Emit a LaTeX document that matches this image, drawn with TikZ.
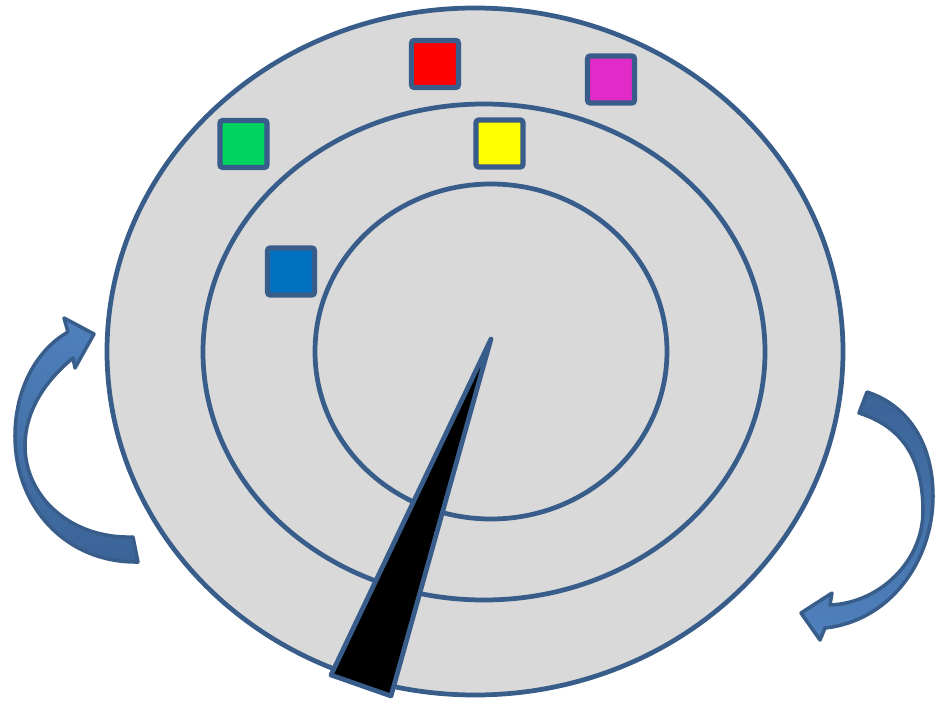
\documentclass[tikz,border=0pt]{standalone}
\usetikzlibrary{arrows.meta}
\definecolor{rim}{HTML}{385D8A}
\definecolor{disc}{HTML}{D9D9D9}
\definecolor{bandtop}{HTML}{4F81BD}
\definecolor{bandlow}{HTML}{3B6497}
\definecolor{chipred}{HTML}{FF0000}
\definecolor{chipmag}{HTML}{E22AC9}
\definecolor{chipgreen}{HTML}{00D45E}
\definecolor{chipyellow}{HTML}{FFFF00}
\definecolor{chipblue}{HTML}{0070C0}

\begin{document}
\begin{tikzpicture}[
  ring/.style={draw=rim,line width=1.35pt},
  chip/.style={draw=rim,line width=1.5pt,rounded corners=0.8pt,
    minimum size=0.47cm,inner sep=0pt},
  band/.style={draw=rim,line width=1pt,line join=round}
]
  \useasboundingbox (0,0) rectangle (9.35,7.01);

  % platter and tracks
  \draw[ring,fill=disc] (4.75,3.495) ellipse (3.68 and 3.435);
  \draw[ring] (4.84,3.49) ellipse (2.81 and 2.48);
  \draw[ring] (4.91,3.495) ellipse (1.76 and 1.675);

  % sectors
  \node[chip,fill=chipred] (red) at (4.35,6.37) {};
  \node[chip,fill=chipmag] (magenta) at (6.11,6.215) {};
  \node[chip,fill=chipyellow] (yellow) at (4.995,5.575) {};
  \node[chip,fill=chipgreen] (green) at (2.435,5.57) {};
  \node[chip,fill=chipblue] (blue) at (2.91,4.295) {};

  % read arm
  \draw[rim,line width=1.35pt,line join=round,fill=black]
    (4.91,3.62) -- (3.91,0.05) -- (3.31,0.26) -- cycle;

  % spin arrows
  \draw[band,top color=bandtop,bottom color=bandlow]
    (0.68,3.69) .. controls (0.35,3.50) and (0.15,3.10) .. (0.15,2.65)
    .. controls (0.15,1.95) and (0.65,1.38) .. (1.38,1.39)
    -- (1.33,1.64)
    .. controls (0.70,1.62) and (0.25,2.05) .. (0.25,2.55)
    .. controls (0.25,2.90) and (0.45,3.20) .. (0.73,3.43)
    -- (0.75,3.33) -- (0.94,3.67) -- (0.64,3.83) -- cycle;
  \draw[band,top color=bandlow,bottom color=bandtop]
    (8.67,3.09) .. controls (9.10,2.95) and (9.33,2.55) .. (9.33,2.05)
    .. controls (9.33,1.40) and (8.90,0.80) .. (8.25,0.73)
    -- (8.20,0.61) -- (8.01,0.88) -- (8.32,1.08) -- (8.30,0.96)
    .. controls (8.80,0.98) and (9.23,1.40) .. (9.23,1.90)
    .. controls (9.23,2.45) and (9.00,2.75) .. (8.59,2.88) -- cycle;
\end{tikzpicture}
\end{document}
